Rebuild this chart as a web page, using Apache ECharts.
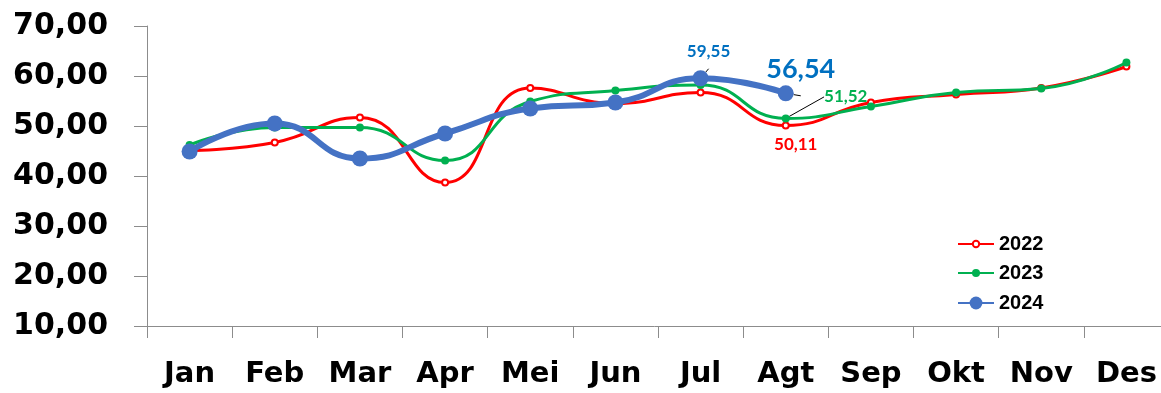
<!DOCTYPE html>
<html>
<head>
<meta charset="utf-8">
<script src="https://cdn.jsdelivr.net/npm/echarts@6/dist/echarts.min.js"></script>
<style>
  html, body { margin: 0; padding: 0; background: #ffffff; }
  #chart { width: 1161px; height: 393px; }
</style>
</head>
<body>
<div id="chart"></div>
<script>
// Monthly values per year
const months = ['Jan', 'Feb', 'Mar', 'Apr', 'Mei', 'Jun', 'Jul', 'Agt', 'Sep', 'Okt', 'Nov', 'Des'];
const y2022 = [45.1, 46.7, 51.7, 38.7, 57.6, 54.5, 56.7, 50.11, 54.7, 56.3, 57.6, 61.9];
const y2023 = [46.2, 49.7, 49.7, 43.1, 54.9, 57.1, 58.2, 51.52, 53.9, 56.7, 57.5, 62.7];
const y2024 = [44.9, 50.5, 43.5, 48.5, 53.5, 54.7, 59.55, 56.54];
const yTicks = [10, 20, 30, 40, 50, 60, 70];

const RED = '#FF0000', GREEN = '#00B050', BLUE = '#4472C4', LABEL_BLUE = '#0070C0';
const fmt = v => Number(v).toFixed(2).replace('.', ',');

const leader = { show: true, lineStyle: { color: '#000000', width: 1 } };
const valueLabel = (color, size, extra) => Object.assign({
  show: true, color: color, fontSize: size, fontWeight: 'bold', fontFamily: 'Lato',
  formatter: p => fmt(p.value)
}, extra);

// Per-point label settings, keyed by month index
const labels2022 = { 7: { label: valueLabel(RED, 17, { position: 'bottom', offset: [10, 2] }) } };
const labels2023 = { 7: { label: valueLabel(GREEN, 17, { position: 'top' }), labelLine: leader } };
const labels2024 = {
  6: { label: valueLabel(LABEL_BLUE, 17, { position: 'top', distance: 10, offset: [8, 0] }), labelLine: leader },
  7: { label: valueLabel(LABEL_BLUE, 27, { position: 'top', distance: 3, offset: [15, 0] }), labelLine: leader }
};

function withLabels(values, specs) {
  return values.map((v, i) => specs[i] ? Object.assign({ value: v }, specs[i]) : v);
}

// Elbow leader for the 2023 label: shift the label up-right, then draw a short
// horizontal stub beside it and a diagonal down to the marker
const SHIFT_2023 = { dx: 60, dy: -4 };
function elbowLeader(params) {
  if (!labels2023[params.dataIndex]) return {};
  const r = params.rect, l = params.labelRect;
  const cx = r.x + r.width / 2;
  const lx = l.x + SHIFT_2023.dx;
  const ly = l.y + SHIFT_2023.dy + l.height * 0.35;
  return {
    dx: SHIFT_2023.dx,
    dy: SHIFT_2023.dy,
    labelLinePoints: [[cx + 1, r.y + 1], [lx - 14, ly], [lx - 5, ly]]
  };
}

const legendBase = {
  orient: 'vertical', left: 957, padding: 0, itemWidth: 36, itemGap: 0,
  textStyle: { fontFamily: 'Liberation Sans', fontWeight: 'bold', fontSize: 20, color: '#000000', lineHeight: 20 }
};

const chart = echarts.init(document.getElementById('chart'));
chart.setOption({
  animation: false,
  backgroundColor: '#ffffff',
  grid: { left: 147, right: -8, top: 26, bottom: 67, containLabel: false, outerBoundsMode: 'none' },
  legend: [
    Object.assign({}, legendBase, { data: ['2022'], top: 234, itemHeight: 8 }),
    Object.assign({}, legendBase, { data: ['2023'], top: 263, itemHeight: 10 }),
    Object.assign({}, legendBase, { data: ['2024'], top: 293, itemHeight: 16 })
  ],
  xAxis: {
    type: 'category',
    data: months,
    boundaryGap: true,
    axisLine: { show: true, lineStyle: { color: '#8C8C8C', width: 1 } },
    axisTick: { show: true, length: 12, interval: 0, lineStyle: { color: '#8C8C8C' } },
    axisLabel: {
      interval: 0, margin: 34, color: '#000000',
      fontFamily: 'DejaVu Sans', fontWeight: 'bold', fontSize: 29
    },
    splitLine: { show: false }
  },
  yAxis: {
    type: 'value',
    min: yTicks[0],
    max: yTicks[yTicks.length - 1],
    interval: yTicks[1] - yTicks[0],
    axisLine: { show: true, lineStyle: { color: '#8C8C8C', width: 1 } },
    axisTick: { show: true, length: 13, lineStyle: { color: '#8C8C8C' } },
    axisLabel: {
      margin: 39, color: '#000000',
      fontFamily: 'DejaVu Sans', fontWeight: 'bold', fontSize: 30,
      formatter: v => fmt(v)
    },
    splitLine: { show: false }
  },
  series: [
    {
      name: '2022', type: 'line', smooth: 0.5, z: 2,
      symbol: 'emptyCircle', symbolSize: 6,
      lineStyle: { color: RED, width: 3 },
      itemStyle: { color: RED, borderWidth: 1.5 },
      label: { show: false },
      data: withLabels(y2022, labels2022)
    },
    {
      name: '2023', type: 'line', smooth: 0.5, z: 3,
      symbol: 'circle', symbolSize: 8,
      lineStyle: { color: GREEN, width: 3 },
      itemStyle: { color: GREEN },
      label: { show: false },
      labelLayout: elbowLeader,
      data: withLabels(y2023, labels2023)
    },
    {
      name: '2024', type: 'line', smooth: 0.5, z: 4,
      symbol: 'circle', symbolSize: 16,
      lineStyle: { color: BLUE, width: 6 },
      itemStyle: { color: BLUE },
      label: { show: false },
      data: withLabels(y2024, labels2024)
    }
  ]
});
</script>
</body>
</html>
